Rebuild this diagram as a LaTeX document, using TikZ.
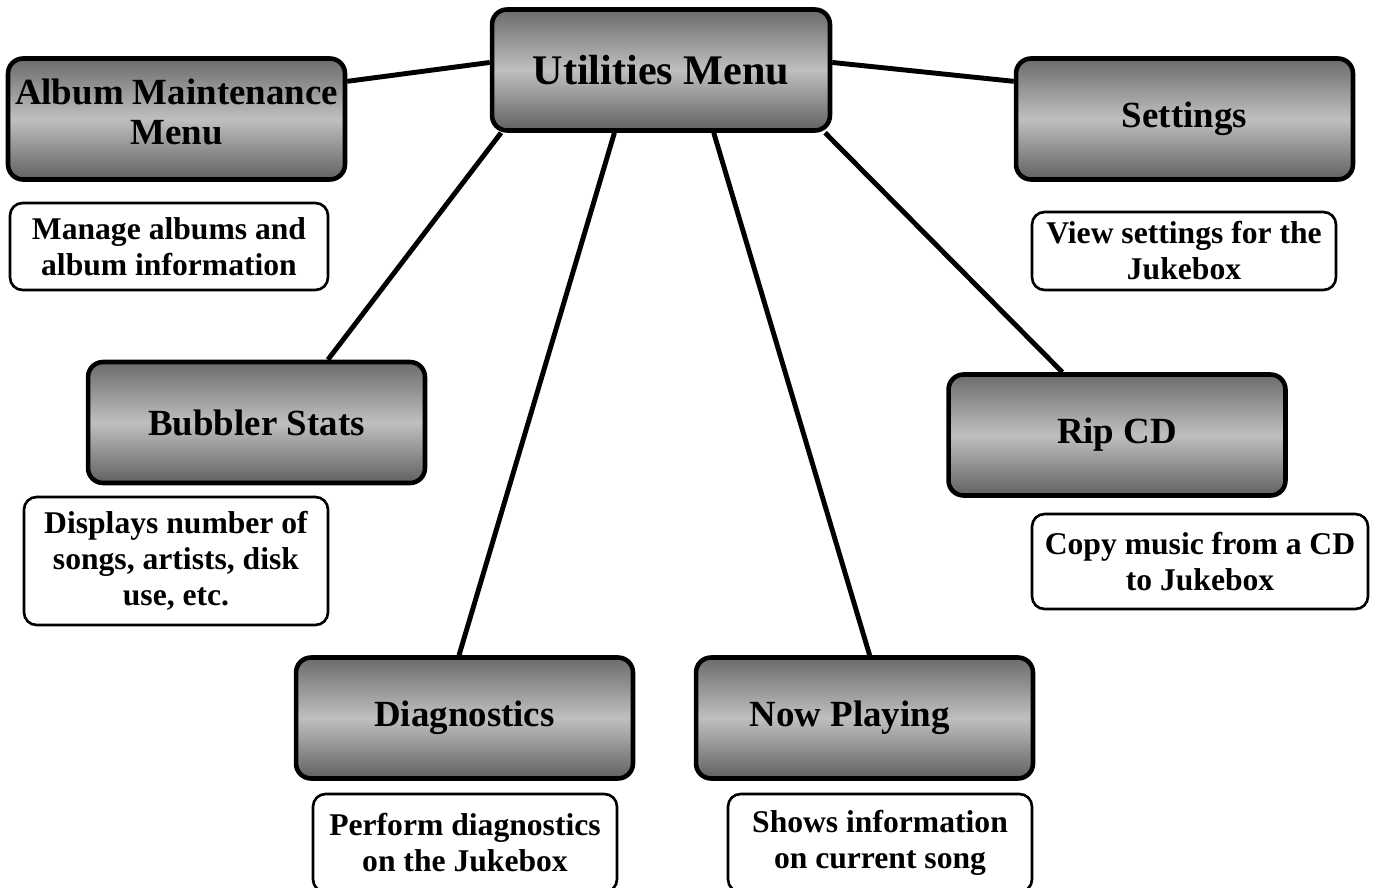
\documentclass[tikz,border=0pt]{standalone}
\usepackage{fontspec}
\setmainfont{Liberation Serif}
\usetikzlibrary{shapes,positioning,calc}
\tikzset{
    menu/.style={rectangle, draw, line width=2.6pt, rounded corners=0.3cm, top color=black!58, bottom color=black!62, middle color=black!25, minimum width=6.74cm, minimum height=2.42cm, inner sep=0pt, align=center, font=\fontsize{21}{23}\selectfont\bfseries},
    desc/.style={rectangle, draw, line width=1.5pt, rounded corners=0.25cm, fill=white, minimum width=6.08cm, inner sep=0pt, align=center, font=\fontsize{18}{20.5}\selectfont\bfseries},
    line/.style={draw, line width=2.8pt}
}
\begin{document}
\begin{tikzpicture}[x=0.02cm, y=-0.02cm]
    \clip (0,0) rectangle (1378,888);
    % Menu boxes
    \node [menu, minimum width=6.76cm, font=\fontsize{24}{26}\selectfont\bfseries] (util) at (661,70) {Utilities Menu};
    \node [menu, text depth=0.3cm] (album) at (176.5,119) {Album Maintenance\\Menu};
    \node [menu] (settings) at (1184.5,119) {Settings};
    \node [menu] (bubbler) at (256.5,422.5) {Bubbler Stats};
    \node [menu] (rip) at (1117,435) {Rip CD};
    \node [menu] (diag) at (464.5,718) {Diagnostics};
    \node [menu, label={[font=\fontsize{21}{23}\selectfont\bfseries, xshift=-0.3cm]center:Now Playing}] (playing) at (864.5,718) {};

    % Descriptions
    \node [desc, minimum width=6.36cm, minimum height=1.74cm] (manage) at (169,246.5) {Manage albums and\\album information};
    \node [desc, minimum height=1.56cm] (view) at (1184,251) {View settings for the\\Jukebox};
    \node [desc, minimum height=2.56cm] (displays) at (176,561) {Displays number of\\songs, artists, disk\\use, etc.};
    \node [desc, minimum width=6.72cm, minimum height=1.9cm] (copy) at (1200,561.5) {Copy music from a CD\\to Jukebox};
    \node [desc, minimum height=1.96cm] (perform) at (465,843) {Perform diagnostics\\on the Jukebox};
    \node [desc, minimum height=1.96cm] (shows) at (880,843) {Shows information\\on current song};

    % Connectors
    \path [line] ($(util.north west)!0.44!(util.south west)$) -- ($(album.north east)!0.2!(album.south east)$);
    \path [line] ($(util.north east)!0.44!(util.south east)$) -- ($(settings.north west)!0.2!(settings.south west)$);
    \path [line] ($(util.south west)!0.033!(util.south east)$) -- ($(bubbler.north west)!0.709!(bubbler.north east)$);
    \path [line] ($(util.south west)!0.364!(util.south east)$) -- ($(diag.north west)!0.484!(diag.north east)$);
    \path [line] ($(util.south west)!0.654!(util.south east)$) -- ($(playing.north west)!0.515!(playing.north east)$);
    \path [line] ($(util.south west)!0.979!(util.south east)$) -- ($(rip.north west)!0.34!(rip.north east)$);
\end{tikzpicture}
\end{document}
